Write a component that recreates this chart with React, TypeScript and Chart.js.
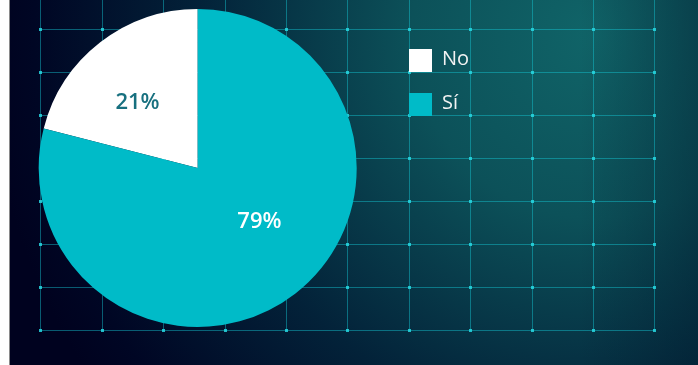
import React, { useEffect, useRef } from "react";
import { Chart, registerables } from "chart.js";

Chart.register(...registerables);

const categories = ["No", "Sí"];
const values = [21, 79];
const percentLabels = ["21%", "79%"];
const sliceColors = ["#ffffff", "#00bbc8"];
const labelColors = ["#17707f", "#ffffff"];

// decorative background grid (page-slide style)
const GRID_X0 = 30.3;
const GRID_DX = 61.4;
const GRID_COLS = 11;
const GRID_Y0 = 29.3;
const GRID_DY = 43;
const GRID_ROWS = 8;

const FONT = "'Open Sans', 'Noto Sans', sans-serif";

const backgroundPlugin = {
  id: "slideBackground",
  beforeDraw(chart: any) {
    const ctx = chart.ctx as CanvasRenderingContext2D;
    const w = chart.width;
    const h = chart.height;
    ctx.save();
    const rg = ctx.createRadialGradient(585, 35, 0, 585, 35, 610);
    rg.addColorStop(0, "#106468");
    rg.addColorStop(0.3, "#0c5159");
    rg.addColorStop(0.65, "#032239");
    rg.addColorStop(0.92, "#000624");
    rg.addColorStop(1, "#00021f");
    ctx.fillStyle = rg;
    ctx.fillRect(0, 0, w, h);
    const lg = ctx.createLinearGradient(570, 0, w, 0);
    lg.addColorStop(0, "rgba(0,20,40,0)");
    lg.addColorStop(1, "rgba(0,20,40,0.35)");
    ctx.fillStyle = lg;
    ctx.fillRect(0, 0, w, h);

    const xs: number[] = [];
    for (let i = 0; i < GRID_COLS; i++) xs.push(Math.round(GRID_X0 + i * GRID_DX) + 0.5);
    const ys: number[] = [];
    for (let j = 0; j < GRID_ROWS; j++) ys.push(Math.round(GRID_Y0 + j * GRID_DY) + 0.5);
    ctx.strokeStyle = "rgba(20,200,212,0.45)";
    ctx.lineWidth = 1;
    ctx.beginPath();
    xs.forEach((x) => {
      ctx.moveTo(x, 0);
      ctx.lineTo(x, ys[ys.length - 1]);
    });
    ys.forEach((y) => {
      ctx.moveTo(xs[0], y);
      ctx.lineTo(xs[xs.length - 1], y);
    });
    ctx.stroke();
    ctx.fillStyle = "rgba(40,215,225,0.85)";
    xs.forEach((x) =>
      ys.forEach((y) => {
        ctx.fillRect(x - 1.5, y - 1.5, 3, 3);
      })
    );
    ctx.restore();
  },
};

const labelShiftDeg = [-4.3, -11.8];
const labelRadiusFrac = [0.565, 0.51];

const labelsPlugin = {
  id: "sliceLabels",
  afterDatasetsDraw(chart: any) {
    const ctx = chart.ctx as CanvasRenderingContext2D;
    const meta = chart.getDatasetMeta(0);
    ctx.save();
    const size = 22;
    ctx.font = `600 ${size}px ${FONT}`;
    ctx.textAlign = "center";
    ctx.textBaseline = "alphabetic";
    meta.data.forEach((arc: any, i: number) => {
      const p = arc.getProps(["x", "y", "startAngle", "endAngle", "outerRadius"], true);
      const mid = (p.startAngle + p.endAngle) / 2 + (labelShiftDeg[i] * Math.PI) / 180;
      const r = p.outerRadius * labelRadiusFrac[i];
      const x = p.x + Math.cos(mid) * r;
      const y = p.y + Math.sin(mid) * r;
      ctx.fillStyle = labelColors[i];
      ctx.fillText(percentLabels[i], x, y + size * 0.357);
    });

    // legend
    ctx.font = `400 20px ${FONT}`;
    ctx.textAlign = "left";
    categories.forEach((c, i) => {
      const top = 49 + i * 44;
      ctx.fillStyle = sliceColors[i];
      ctx.fillRect(399, top, 23, 23);
      ctx.fillStyle = "#f2f2f2";
      ctx.fillText(c, 432, top + 16);
    });
    ctx.restore();
  },
};

export default function App() {
  const ref = useRef<HTMLCanvasElement | null>(null);
  useEffect(() => {
    if (!ref.current) return;
    const total = values.reduce((a, b) => a + b, 0);
    const chart = new Chart(ref.current, {
      type: "pie",
      data: {
        labels: categories,
        datasets: [
          {
            data: values,
            backgroundColor: sliceColors,
            borderWidth: 0,
          },
        ],
      },
      options: {
        animation: false,
        responsive: false,
        devicePixelRatio: 1,
        rotation: -(values[0] / total) * 360,
        layout: { padding: { left: 28.7, right: 341.3, top: 9, bottom: 38 } },
        plugins: {
          legend: { display: false },
          tooltip: { enabled: false },
          title: { display: false },
        },
      },
      plugins: [backgroundPlugin, labelsPlugin],
    });
    return () => chart.destroy();
  }, []);

  return (
    <div
      style={{
        position: "absolute",
        left: 9,
        top: 0,
        width: 688,
        height: 365,
        borderLeft: "1px solid #8a8a8a",
        overflow: "hidden",
      }}
    >
      <canvas ref={ref} width={688} height={365} style={{ display: "block", width: 688, height: 365 }} />
    </div>
  );
}
